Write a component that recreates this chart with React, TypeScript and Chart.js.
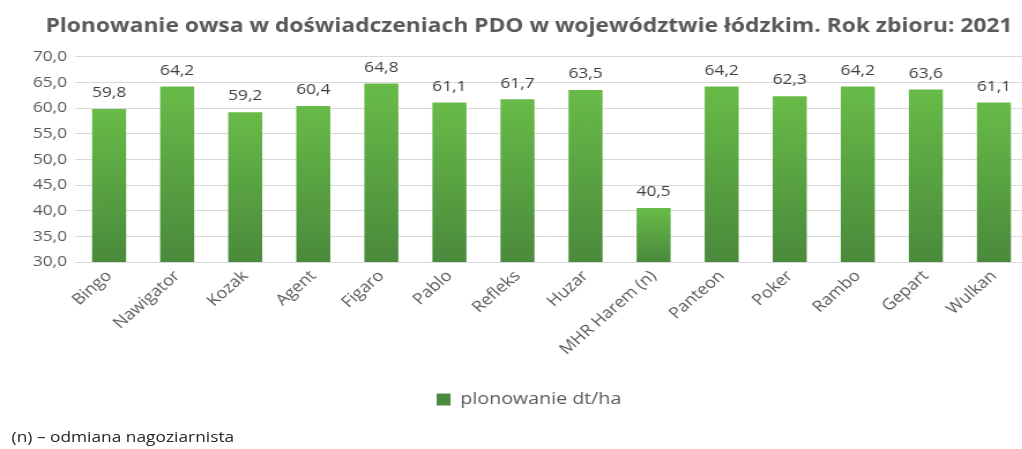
import React, { useEffect, useRef } from 'react';
import { Chart, registerables } from 'chart.js';

Chart.register(...registerables);

const chartTitle = 'Plonowanie owsa w doświadczeniach PDO w województwie łódzkim. Rok zbioru: 2021';
const categories = [
  'Bingo', 'Nawigator', 'Kozak', 'Agent', 'Figaro', 'Pablo', 'Refleks',
  'Huzar', 'MHR Harem (n)', 'Panteon', 'Poker', 'Rambo', 'Gepart', 'Wulkan',
];
const values = [59.8, 64.2, 59.2, 60.4, 64.8, 61.1, 61.7, 63.5, 40.5, 64.2, 62.3, 64.2, 63.6, 61.1];
const seriesLabel = 'plonowanie dt/ha';
const yMin = 30;
const yMax = 70;
const yStep = 5;
const footnote = '(n) – odmiana nagoziarnista';

const fmt = (v: number) => v.toFixed(1).replace('.', ',');

const FONT = "'Open Sans', 'Noto Sans', sans-serif";
// the reference picture is stretched horizontally
const STRETCH = 1.155;
const CANVAS_W = 916;
const CANVAS_H = 449;

const dataLabelPlugin = {
  id: 'dataLabels',
  afterDatasetsDraw(chart: any) {
    const ctx = chart.ctx;
    const meta = chart.getDatasetMeta(0);
    ctx.save();
    ctx.font = `15px ${FONT}`;
    ctx.fillStyle = '#404040';
    ctx.textAlign = 'center';
    ctx.textBaseline = 'middle';
    meta.data.forEach((bar: any, i: number) => {
      const v = chart.data.datasets[0].data[i] as number;
      ctx.fillText(fmt(v), bar.x, bar.y - 16);
    });
    ctx.restore();
  },
};

export default function App() {
  const canvasRef = useRef<HTMLCanvasElement | null>(null);

  useEffect(() => {
    if (!canvasRef.current) return;
    const chart = new Chart(canvasRef.current, {
      type: 'bar',
      data: {
        labels: categories,
        datasets: [
          {
            label: seriesLabel,
            data: values,
            backgroundColor: (c: any) => {
              const ch = c.chart;
              if (!ch.chartArea || c.type !== 'data') return '#55a041';
              const ys = ch.scales.y;
              const top = ys.getPixelForValue(values[c.dataIndex]);
              const bottom = ys.getPixelForValue(yMin);
              const g = ch.ctx.createLinearGradient(0, top, 0, bottom);
              g.addColorStop(0, '#68bb48');
              g.addColorStop(1, '#4a8a3c');
              return g;
            },
            borderWidth: 0,
            categoryPercentage: 1,
            barPercentage: 0.5,
          },
        ],
      },
      options: {
        responsive: false,
        animation: false,
        maintainAspectRatio: false,
        layout: { padding: { left: 0, right: 0, top: 0, bottom: 31 } },
        plugins: {
          title: {
            display: true,
            text: chartTitle,
            color: '#595959',
            font: { family: FONT, size: 19.75, weight: 'bold' },
            padding: { top: 15, bottom: 18 },
          },
          legend: {
            position: 'bottom',
            labels: {
              color: '#595959',
              font: { family: FONT, size: 17 },
              boxWidth: 12,
              boxHeight: 12,
              padding: 10,
            },
          },
          tooltip: { enabled: false },
        },
        scales: {
          x: {
            grid: { display: false },
            border: { display: false },
            ticks: {
              autoSkip: false,
              maxRotation: 45,
              minRotation: 45,
              color: '#595959',
              font: { family: FONT, size: 15.5 },
              padding: -3,
            },
            afterFit: (s: any) => {
              s.height = 119;
            },
          },
          y: {
            min: yMin,
            max: yMax,
            ticks: {
              stepSize: yStep,
              color: '#595959',
              font: { family: FONT, size: 15 },
              padding: 7,
              callback: (v: any) => fmt(Number(v)),
            },
            grid: { color: '#d9d9d9', lineWidth: 1, drawTicks: false },
            border: { display: false },
            afterFit: (s: any) => {
              s.width = 65;
            },
          },
          yRight: {
            position: 'right',
            min: yMin,
            max: yMax,
            grid: { display: false, drawTicks: false },
            border: { display: false },
            ticks: { display: false },
            afterFit: (s: any) => {
              s.width = 26;
            },
          },
        },
      },
      plugins: [dataLabelPlugin],
    });
    return () => chart.destroy();
  }, []);

  return (
    <div
      style={{
        position: 'fixed',
        left: 0,
        top: 0,
        width: 1022,
        height: 449,
        overflow: 'hidden',
        background: '#ffffff',
      }}
    >
      <div
        style={{
          position: 'absolute',
          left: 0,
          top: 0,
          width: CANVAS_W,
          height: CANVAS_H,
          transform: `scaleX(${STRETCH})`,
          transformOrigin: '0 0',
        }}
      >
        <canvas
          ref={canvasRef}
          width={CANVAS_W}
          height={CANVAS_H}
          style={{ display: 'block', width: CANVAS_W, height: CANVAS_H }}
        />
        <div
          style={{
            position: 'absolute',
            left: 10,
            top: 426,
            fontFamily: FONT,
            fontSize: 15,
            color: '#262626',
            whiteSpace: 'nowrap',
            lineHeight: '20px',
          }}
        >
          {footnote}
        </div>
      </div>
    </div>
  );
}
